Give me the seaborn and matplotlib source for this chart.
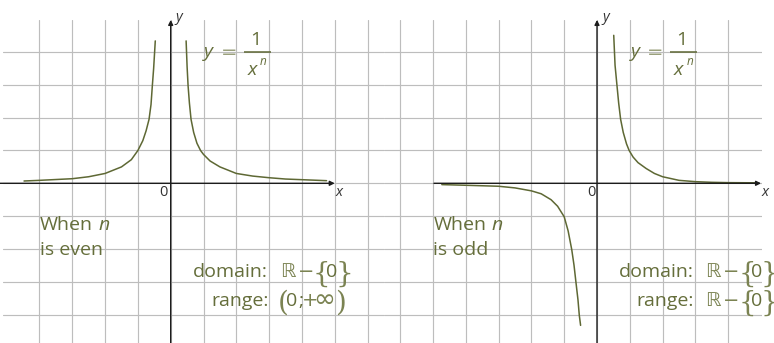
import matplotlib
matplotlib.use("Agg")
import matplotlib.pyplot as plt
from matplotlib.transforms import offset_copy
import seaborn as sns

# curve points (grid units)
even_neg_x = [-4.47, -4.0, -3.0, -2.5, -2.0, -1.5, -1.2, -1.0, -0.85, -0.75, -0.66, -0.6, -0.56, -0.52, -0.47]
even_neg_y = [0.07, 0.09, 0.14, 0.2, 0.3, 0.5, 0.72, 1.0, 1.3, 1.6, 1.95, 2.4, 2.97, 3.5, 4.34]
even_pos_x = [0.47, 0.5, 0.53, 0.57, 0.62, 0.7, 0.8, 0.91, 1.0, 1.2, 1.5, 2.0, 2.5, 3.0, 3.5, 4.0, 4.75]
even_pos_y = [4.34, 3.55, 2.97, 2.45, 1.95, 1.55, 1.22, 1.0, 0.88, 0.68, 0.5, 0.3, 0.22, 0.17, 0.13, 0.11, 0.08]
odd_neg_x = [-4.73, -4.0, -3.0, -2.5, -2.0, -1.7, -1.4, -1.2, -1.0, -0.88, -0.77, -0.7, -0.64, -0.58, -0.54, -0.5]
odd_neg_y = [-0.04, -0.06, -0.09, -0.14, -0.23, -0.32, -0.5, -0.7, -1.02, -1.45, -2.02, -2.5, -3.03, -3.55, -4.02, -4.33]
odd_pos_x = [0.51, 0.55, 0.61, 0.66, 0.72, 0.8, 0.9, 0.98, 1.1, 1.25, 1.5, 1.75, 2.0, 2.5, 3.0, 3.5, 4.0, 4.82]
odd_pos_y = [4.51, 3.6, 2.97, 2.45, 1.95, 1.55, 1.2, 1.0, 0.8, 0.63, 0.45, 0.3, 0.2, 0.09, 0.05, 0.03, 0.02, 0.015]

panel_words = ["is even", "is odd"]
domain_text = "\u211d"
range_left = ["(", "0", ";", "+", "\u221e", ")"]

OLIVE = "#5e6834"
TEXT = "#656e3b"
LIGHT = "#7b8352"
GRID = "#bdbdbd"
AXIS = "#1c1c1c"
UNIT = 32.81  # px per grid step
SANS = "Open Sans"

sns.set_style("white")
plt.rcParams["font.family"] = [SANS, "DejaVu Sans"]

fig = plt.figure(figsize=(7.74, 3.43), dpi=100)


def make_panel(left_px, right_px, x0_px, xticks):
    ax = fig.add_axes([left_px / 774, 0, (right_px - left_px) / 774, 323 / 343])
    ax.set_xlim((left_px - x0_px) / UNIT, (right_px - x0_px) / UNIT)
    ax.set_ylim(-159.7 / UNIT, 163.3 / UNIT)
    ax.set_xticks(xticks)
    ax.set_yticks(range(-4, 5))
    ax.grid(True, color=GRID, lw=0.85)
    ax.tick_params(length=0, labelbottom=False, labelleft=False)
    for s in ax.spines.values():
        s.set_visible(False)
    ax.set_facecolor("none")
    return ax


def put(ax, u, v, s, dx=0, dy=0, **kw):
    tr = offset_copy(ax.transData, fig=fig, x=dx, y=dy, units="dots")
    return ax.text(u, v, s, transform=tr, **kw)


def axes_arrows(ax, xstart):
    ap = dict(arrowstyle="-|>", color=AXIS, lw=1.0, mutation_scale=7, shrinkA=0, shrinkB=0)
    ax.annotate("", xy=(5.0, 0), xytext=(xstart, 0), arrowprops=ap, annotation_clip=False)
    ax.annotate("", xy=(0, 4.98), xytext=(0, -5.0), arrowprops=ap, annotation_clip=False)
    put(ax, 0.26, 5.04, "y", fontsize=10.5, style="italic", color="#333333", ha="center", va="center")
    put(ax, 5.13, -0.29, "x", fontsize=10.5, style="italic", color="#333333", ha="center", va="center")


def equation(ax, u, v):
    kw = dict(color=TEXT, ha="center", va="baseline")
    put(ax, u, v, "y", dx=-35, dy=-4.5, fontsize=14, style="italic", **kw)
    put(ax, u, v, "=", dx=-15, dy=-5.5, fontsize=14, family="DejaVu Sans",
        color="#9aa07c", ha="center", va="baseline")
    tr = offset_copy(ax.transData, fig=fig, x=0, y=0, units="dots")
    ax.plot([u, u + 0.82], [v, v], color=OLIVE, lw=1.1, transform=tr, solid_capstyle="butt")
    put(ax, u, v, "1", dx=12, dy=7.5, fontsize=14, **kw)
    put(ax, u, v, "x", dx=8.5, dy=-22.5, fontsize=14, style="italic", **kw)
    put(ax, u, v, "n", dx=19.5, dy=-12.5, fontsize=8.5, style="italic", **kw)


def when_text(ax, u, word):
    t = put(ax, u, -1.43, "When", fontsize=14, color=TEXT, ha="left", va="baseline")
    ax.annotate("n", xy=(1, 0), xycoords=t, xytext=(4, 0), textcoords="offset points",
                fontsize=14, style="italic", color=TEXT, ha="left", va="bottom")
    put(ax, u, -2.19, word, fontsize=14, color=TEXT, ha="left", va="baseline")


def r_minus_zero(ax, u, v):
    put(ax, u, v, domain_text, fontsize=14, family="DejaVu Sans", color=LIGHT, ha="left", va="baseline")
    put(ax, u, v, "\u2212", dx=18, dy=0, fontsize=14, family="DejaVu Sans", color=LIGHT, ha="left", va="baseline")
    put(ax, u, v, "{", dx=33, dy=-5, fontsize=20, family="DejaVu Serif", color=LIGHT, ha="left", va="baseline")
    put(ax, u, v, "0", dx=46, fontsize=14, color=TEXT, ha="left", va="baseline")
    put(ax, u, v, "}", dx=55.5, dy=-5, fontsize=20, family="DejaVu Serif", color=LIGHT, ha="left", va="baseline")


# ---- left panel: n even
ax1 = make_panel(3, 384, 170.7, range(-4, 7))
axes_arrows(ax1, -5.2)
put(ax1, -0.23, -0.29, "0", fontsize=10.5, color="#333333", ha="center", va="center")
sns.lineplot(x=even_neg_x, y=even_neg_y, ax=ax1, color=OLIVE, lw=1.1, sort=False, estimator=None)
sns.lineplot(x=even_pos_x, y=even_pos_y, ax=ax1, color=OLIVE, lw=1.1, sort=False, estimator=None)
equation(ax1, 2.23, 3.99)
when_text(ax1, -3.98, panel_words[0])
put(ax1, 2.96, -2.85, "domain:", fontsize=14, color=TEXT, ha="right", va="baseline")
put(ax1, 2.98, -3.74, "range:", fontsize=14, color=TEXT, ha="right", va="baseline")
r_minus_zero(ax1, 3.33, -2.85)
offs = [(-1, 20, -5, "DejaVu Serif", LIGHT), (8, 14, 0, SANS, TEXT), (20, 14, 0, SANS, TEXT),
        (24, 14, 0, "DejaVu Sans", LIGHT), (35, 19, -1, "DejaVu Sans", LIGHT), (57, 20, -5, "DejaVu Serif", LIGHT)]
for s, (dx, fs, dy, fam, col) in zip(range_left, offs):
    put(ax1, 3.28, -3.74, s, dx=dx, dy=dy, fontsize=fs, family=fam, color=col, ha="left", va="baseline")

# ---- right panel: n odd
ax2 = make_panel(384, 762, 597.0, range(-6, 5))
axes_arrows(ax2, -4.97)
put(ax2, -0.16, -0.29, "0", fontsize=10.5, color="#333333", ha="center", va="center")
sns.lineplot(x=odd_neg_x, y=odd_neg_y, ax=ax2, color=OLIVE, lw=1.1, sort=False, estimator=None)
sns.lineplot(x=odd_pos_x, y=odd_pos_y, ax=ax2, color=OLIVE, lw=1.1, sort=False, estimator=None)
equation(ax2, 2.23, 3.99)
when_text(ax2, -4.99, panel_words[1])
put(ax2, 2.96, -2.85, "domain:", fontsize=14, color=TEXT, ha="right", va="baseline")
put(ax2, 2.96, -3.74, "range:", fontsize=14, color=TEXT, ha="right", va="baseline")
r_minus_zero(ax2, 3.3, -2.85)
r_minus_zero(ax2, 3.3, -3.74)

fig.savefig("out.png", dpi=100, facecolor="white")
